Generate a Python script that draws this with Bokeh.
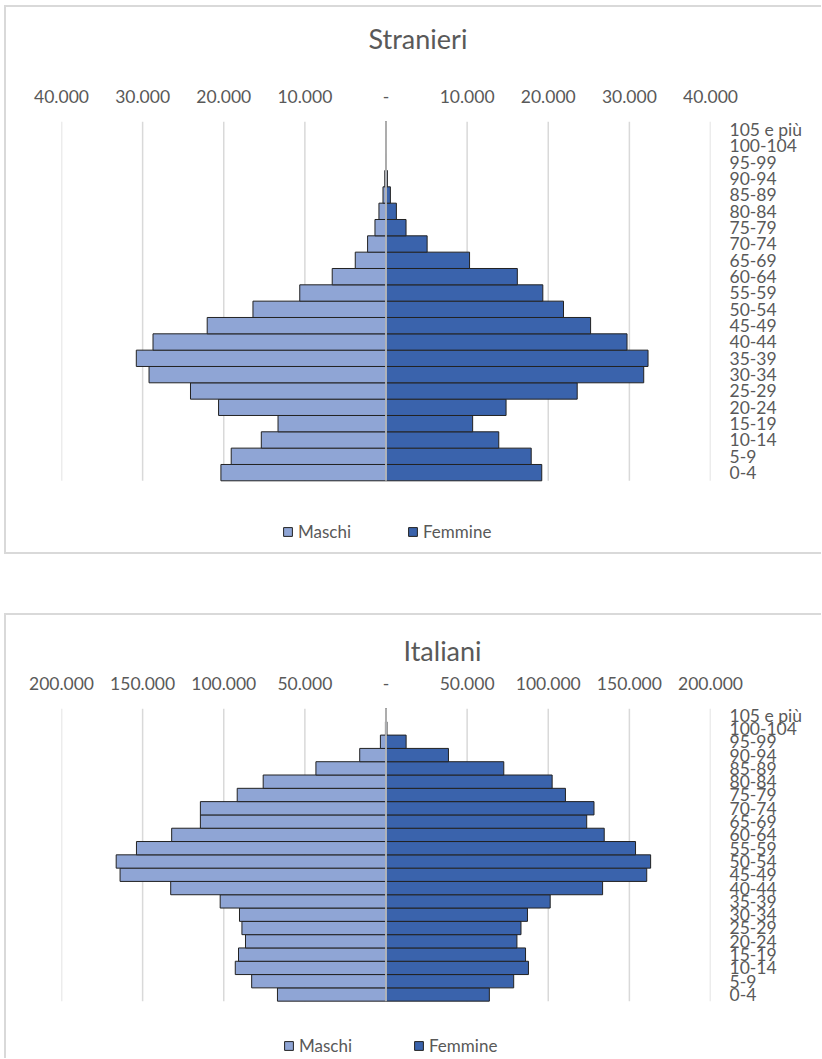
from bokeh.plotting import figure
from bokeh.models import (ColumnDataSource, Range1d, FixedTicker, Legend, LegendItem)
from bokeh.layouts import column
from bokeh.embed import file_html
from bokeh.resources import INLINE

# ---------------- data ----------------
age_groups = ["0-4", "5-9", "10-14", "15-19", "20-24", "25-29", "30-34", "35-39",
              "40-44", "45-49", "50-54", "55-59", "60-64", "65-69", "70-74", "75-79",
              "80-84", "85-89", "90-94", "95-99", "100-104", "105 e più"]

stranieri_maschi = [20350, 19080, 15370, 13310, 20640, 24100, 29210, 30780, 28720, 22040,
                    16400, 10630, 6630, 3790, 2270, 1360, 870, 370, 150, 60, 20, 2]
stranieri_femmine = [19200, 17900, 13900, 10680, 14800, 23570, 31770, 32300, 29710, 25220,
                     21880, 19330, 16190, 10300, 5070, 2470, 1280, 540, 170, 40, 5, 1]

italiani_maschi = [66900, 82800, 92900, 90900, 86600, 88800, 90300, 102200, 132700, 163900,
                   166300, 153800, 132100, 114400, 114400, 91700, 75700, 43200, 16200, 3450, 350, 30]
italiani_femmine = [63700, 78700, 87800, 86000, 80700, 83200, 87200, 101200, 133500, 160700,
                    163100, 153800, 134500, 123700, 128200, 110600, 102400, 72600, 38500, 12400, 600, 60]

stranieri_ticks = [-40000, -30000, -20000, -10000, 0, 10000, 20000, 30000, 40000]
stranieri_tick_labels = ["40.000", "30.000", "20.000", "10.000", "-", "10.000", "20.000", "30.000", "40.000"]
italiani_ticks = [-200000, -150000, -100000, -50000, 0, 50000, 100000, 150000, 200000]
italiani_tick_labels = ["200.000", "150.000", "100.000", "50.000", "-", "50.000", "100.000", "150.000", "200.000"]

series_labels = ["Maschi", "Femmine"]
titles = ["Stranieri", "Italiani"]

# ---------------- style ----------------
FONT = "Lato"
TEXT = "#595959"
GRID = "#d9d9d9"
M_COLOR = "#8FA5D5"
F_COLOR = "#3A63AC"
EDGE = "#222222"
BORDER = "2px solid #d9d9d9"


def make_chart(title, males, females, ticks, tick_labels, width, height,
               mb_left, mb_right, mb_top, px_per_row, px_below,
               title_offset, spacer, legend_xy, legend_spacing, border_bottom):
    n = len(age_groups)
    pos = list(range(n))
    src = ColumnDataSource(dict(
        pos=pos,
        m_left=[-v for v in males],
        f_right=list(females),
        zero=[0] * n,
    ))
    grid_src = ColumnDataSource(dict(x=list(ticks),
                                     y0=[-0.5] * len(ticks),
                                     y1=[n - 0.5] * len(ticks)))
    styles = {"box-sizing": "content-box", "border-top": BORDER, "border-left": BORDER}
    if border_bottom:
        styles["border-bottom"] = BORDER
    y_start = -0.5 - px_below / px_per_row
    p = figure(width=width, height=height, title=title,
               y_range=Range1d(y_start, n - 0.5),
               x_range=Range1d(ticks[0], ticks[-1]),
               x_axis_location="above", y_axis_location="right",
               output_backend="svg", toolbar_location=None,
               min_border_left=mb_left, min_border_right=mb_right,
               min_border_top=mb_top, min_border_bottom=0,
               styles=styles)
    p.outline_line_color = None
    p.background_fill_color = "white"
    p.border_fill_color = "white"
    p.xgrid.grid_line_color = None
    p.ygrid.grid_line_color = None

    p.title.align = "left"
    p.title.offset = title_offset
    p.title.vertical_align = "bottom"
    p.title.standoff = 0
    p.title.text_font = FONT
    p.title.text_font_size = "27px"
    p.title.text_font_style = "normal"
    p.title.text_color = TEXT

    # vertical grid lines (incl. the outer ones)
    p.segment(x0="x", x1="x", y0="y0", y1="y1", source=grid_src,
              line_color=GRID, line_width=1.5)

    rm = p.hbar(y="pos", left="m_left", right="zero", height=1.0, source=src,
                fill_color=M_COLOR, line_color=EDGE, line_width=1)
    rf = p.hbar(y="pos", left="zero", right="f_right", height=1.0, source=src,
                fill_color=F_COLOR, line_color=EDGE, line_width=1)

    # vertical axis line at zero, drawn over the bars
    p.segment(x0=[0], x1=[0], y0=[-0.5], y1=[n - 0.5], line_color=GRID, line_width=1.5)

    xa = p.xaxis[0]
    xa.ticker = FixedTicker(ticks=ticks)
    xa.major_label_overrides = {t: l for t, l in zip(ticks, tick_labels)}
    xa.axis_line_color = None
    xa.major_tick_line_color = None
    xa.minor_tick_line_color = None
    xa.major_tick_out = 0
    xa.major_tick_in = 0
    xa.minor_tick_out = 0
    xa.minor_tick_in = 0
    xa.major_label_standoff = 19
    xa.major_label_text_font = FONT
    xa.major_label_text_font_size = "17.5px"
    xa.major_label_text_color = TEXT
    # invisible spacer between tick labels and title
    xa.axis_label = " "
    xa.axis_label_text_font_size = "1px"
    xa.axis_label_standoff = spacer

    ya = p.yaxis[0]
    ya.ticker = FixedTicker(ticks=pos)
    ya.major_label_overrides = {i: g for i, g in zip(pos, age_groups)}
    ya.axis_line_color = None
    ya.major_tick_line_color = None
    ya.minor_tick_line_color = None
    ya.major_tick_out = 0
    ya.major_tick_in = 0
    ya.minor_tick_out = 0
    ya.minor_tick_in = 0
    ya.major_label_standoff = 19
    ya.major_label_text_font = FONT
    ya.major_label_text_font_size = "17.5px"
    ya.major_label_text_color = TEXT

    legend = Legend(items=[LegendItem(label=series_labels[0], renderers=[rm]),
                           LegendItem(label=series_labels[1], renderers=[rf])],
                    orientation="horizontal", location=legend_xy,
                    glyph_width=11, glyph_height=11, label_height=11,
                    label_standoff=5, label_width=100, spacing=legend_spacing,
                    padding=0, margin=0,
                    border_line_color=None, background_fill_alpha=0,
                    label_text_font=FONT, label_text_font_size="17px",
                    label_text_color=TEXT)
    p.add_layout(legend)
    return p


p1 = make_chart(titles[0], stranieri_maschi, stranieri_femmine, stranieri_ticks,
                stranieri_tick_labels, width=815, height=545,
                mb_left=55, mb_right=113, mb_top=114,
                px_per_row=356 / 22, px_below=75,
                title_offset=307, spacer=28,
                legend_xy=(221, 14), legend_spacing=9, border_bottom=True)

p2 = make_chart(titles[1], italiani_maschi, italiani_femmine, italiani_ticks,
                italiani_tick_labels, width=815, height=443,
                mb_left=55, mb_right=103, mb_top=93,
                px_per_row=291 / 22, px_below=59,
                title_offset=342, spacer=3,
                legend_xy=(222, 4), legend_spacing=14, border_bottom=False)

layout = column(p1, p2, spacing=59, styles={"margin-left": "4px", "margin-top": "5px"})

open("out.html", "w").write(file_html(layout, INLINE))
